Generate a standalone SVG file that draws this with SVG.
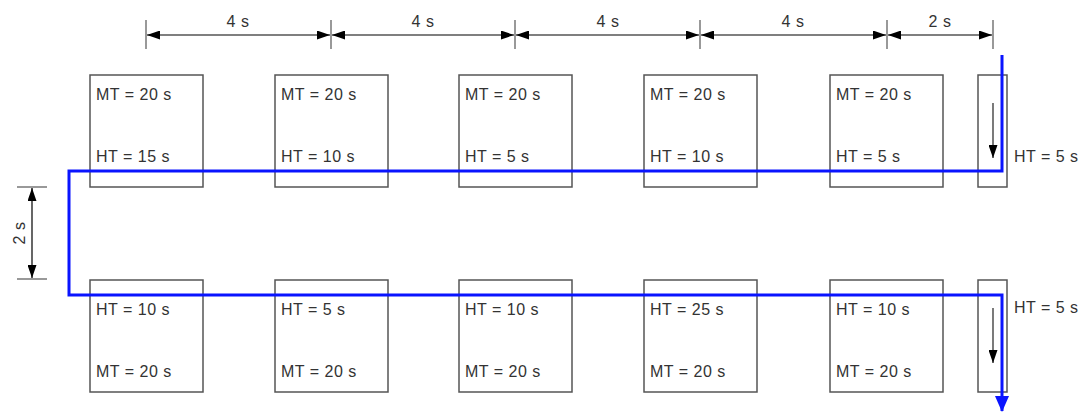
<svg xmlns="http://www.w3.org/2000/svg" width="1085" height="412" viewBox="0 0 1085 412">
  <style>
    .box { fill: #ffffff; stroke: #555555; stroke-width: 1.5; }
    .lbl { font-family: "Liberation Sans", Arial, sans-serif; font-size: 16px; letter-spacing: 0.5px; fill: #333333; }
    .dim { stroke: #000000; stroke-width: 1.2; fill: none; }
    .tick { stroke: #555555; stroke-width: 1.2; }
    .path { stroke: #0a14ff; stroke-width: 3; fill: none; stroke-linejoin: miter; }
    .flow { stroke: #222222; stroke-width: 1.2; fill: none; }
  </style>
  <defs>
    <marker id="dimArrow" viewBox="0 0 13 9" refX="13" refY="4.5" markerWidth="13" markerHeight="9" markerUnits="userSpaceOnUse" orient="auto-start-reverse">
      <path d="M0,0 L13,4.5 L0,9 Z" fill="#000000"/>
    </marker>
    <marker id="blueArrow" viewBox="0 0 16 14" refX="15" refY="7" markerWidth="16" markerHeight="14" markerUnits="userSpaceOnUse" orient="auto">
      <path d="M0,0 L16,7 L0,14 Z" fill="#0a14ff"/>
    </marker>
  </defs>

  <!-- upper row -->
  <g id="top-1"><rect class="box" x="90" y="75" width="113" height="112"/><text class="lbl" x="96" y="100">MT = 20 s</text><text class="lbl" x="96" y="162">HT = 15 s</text></g>
  <g id="top-2"><rect class="box" x="275" y="75" width="113" height="112"/><text class="lbl" x="281" y="100">MT = 20 s</text><text class="lbl" x="281" y="162">HT = 10 s</text></g>
  <g id="top-3"><rect class="box" x="459" y="75" width="113" height="112"/><text class="lbl" x="465" y="100">MT = 20 s</text><text class="lbl" x="465" y="162">HT = 5 s</text></g>
  <g id="top-4"><rect class="box" x="644" y="75" width="113" height="112"/><text class="lbl" x="650" y="100">MT = 20 s</text><text class="lbl" x="650" y="162">HT = 10 s</text></g>
  <g id="top-5"><rect class="box" x="830" y="75" width="113" height="112"/><text class="lbl" x="836" y="100">MT = 20 s</text><text class="lbl" x="836" y="162">HT = 5 s</text></g>
  <g id="top-6"><rect class="box" x="978" y="75" width="29" height="112"/><text class="lbl" x="1014" y="162">HT = 5 s</text></g>

  <!-- lower row -->
  <g id="bottom-1"><rect class="box" x="90" y="280" width="113" height="112"/><text class="lbl" x="96" y="315">HT = 10 s</text><text class="lbl" x="96" y="377">MT = 20 s</text></g>
  <g id="bottom-2"><rect class="box" x="275" y="280" width="113" height="112"/><text class="lbl" x="281" y="315">HT = 5 s</text><text class="lbl" x="281" y="377">MT = 20 s</text></g>
  <g id="bottom-3"><rect class="box" x="459" y="280" width="113" height="112"/><text class="lbl" x="465" y="315">HT = 10 s</text><text class="lbl" x="465" y="377">MT = 20 s</text></g>
  <g id="bottom-4"><rect class="box" x="644" y="280" width="113" height="112"/><text class="lbl" x="650" y="315">HT = 25 s</text><text class="lbl" x="650" y="377">MT = 20 s</text></g>
  <g id="bottom-5"><rect class="box" x="830" y="280" width="113" height="112"/><text class="lbl" x="836" y="315">HT = 10 s</text><text class="lbl" x="836" y="377">MT = 20 s</text></g>
  <g id="bottom-6"><rect class="box" x="978" y="280" width="29" height="112"/><text class="lbl" x="1014" y="313">HT = 5 s</text></g>

  <!-- dimensions -->
  <g id="dimensions">
    <line class="tick" x1="146" y1="20" x2="146" y2="49"/>
    <line class="tick" x1="331" y1="20" x2="331" y2="49"/>
    <line class="tick" x1="515" y1="20" x2="515" y2="49"/>
    <line class="tick" x1="700" y1="20" x2="700" y2="49"/>
    <line class="tick" x1="887" y1="20" x2="887" y2="49"/>
    <line class="tick" x1="993" y1="20" x2="993" y2="49"/>
    <line class="dim" x1="147" y1="35" x2="330" y2="35" marker-start="url(#dimArrow)" marker-end="url(#dimArrow)"/>
    <line class="dim" x1="332" y1="35" x2="514" y2="35" marker-start="url(#dimArrow)" marker-end="url(#dimArrow)"/>
    <line class="dim" x1="516" y1="35" x2="699" y2="35" marker-start="url(#dimArrow)" marker-end="url(#dimArrow)"/>
    <line class="dim" x1="701" y1="35" x2="886" y2="35" marker-start="url(#dimArrow)" marker-end="url(#dimArrow)"/>
    <line class="dim" x1="888" y1="35" x2="992" y2="35" marker-start="url(#dimArrow)" marker-end="url(#dimArrow)"/>
    <text class="lbl" x="238" y="27" text-anchor="middle">4 s</text>
    <text class="lbl" x="423" y="27" text-anchor="middle">4 s</text>
    <text class="lbl" x="608" y="27" text-anchor="middle">4 s</text>
    <text class="lbl" x="793" y="27" text-anchor="middle">4 s</text>
    <text class="lbl" x="940" y="27" text-anchor="middle">2 s</text>

    <line class="tick" x1="17" y1="187" x2="47" y2="187"/>
    <line class="tick" x1="17" y1="279" x2="47" y2="279"/>
    <line class="dim" x1="32" y1="188" x2="32" y2="278" marker-start="url(#dimArrow)" marker-end="url(#dimArrow)"/>
    <text class="lbl" x="0" y="0" text-anchor="middle" transform="translate(25,233) rotate(-90)">2 s</text>
  </g>

  <!-- connectors -->
  <g id="connectors">
    <line class="flow" x1="993" y1="103" x2="993" y2="158" marker-end="url(#dimArrow)"/>
    <line class="flow" x1="993" y1="308" x2="993" y2="363" marker-end="url(#dimArrow)"/>
    <polyline class="path" points="1002,55 1002,171 69,171 69,295 1002,295 1002,411" marker-end="url(#blueArrow)"/>
  </g>
</svg>
